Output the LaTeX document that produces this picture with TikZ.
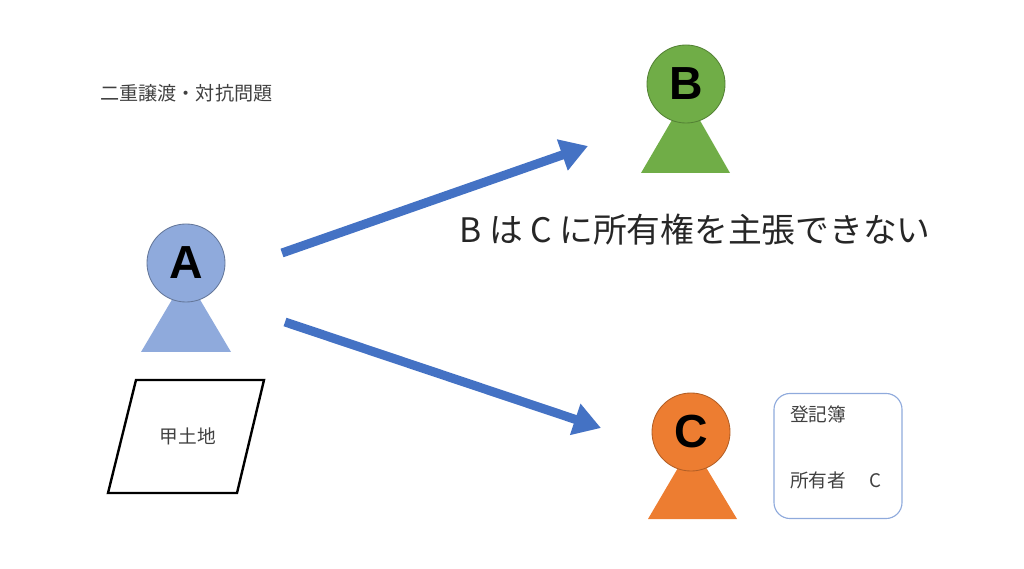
\documentclass[tikz,border=0pt]{standalone}
\usepackage{fontspec}
\usepackage{tikz}
\usetikzlibrary{positioning, arrows.meta}
\newfontfamily\jpfont{Noto Sans CJK JP}
\newfontfamily\headfont{Liberation Sans}
\definecolor{personA}{HTML}{8FAADC}
\definecolor{personB}{HTML}{70AD47}
\definecolor{personC}{HTML}{ED7D31}
\definecolor{arrowblue}{HTML}{4472C4}
\definecolor{textgray}{HTML}{404040}
\definecolor{boxline}{HTML}{8FAADC}
\tikzstyle{head} = [circle, draw, line width=0.6pt, minimum size=1.95cm, inner sep=0pt, font=\headfont\bfseries\fontsize{33}{33}\selectfont]
\tikzstyle{label} = [text=textgray, inner sep=0pt, font=\jpfont\fontsize{13.3}{16}\selectfont]
\tikzstyle{transfer} = [line width=6.4pt, color=arrowblue, -{Triangle[length=0.68cm, width=0.78cm]}]

\begin{document}
\begin{tikzpicture}[x=0.025cm, y=-0.025cm]
\useasboundingbox (0,0) rectangle (1024,569);

\node[label, anchor=west, font=\jpfont\fontsize{13.6}{16}\selectfont] (title) at (100,93) {二重譲渡・対抗問題};

\fill[personA] (141,352) -- (186,276) -- (231,352) -- cycle;
\node[head, fill=personA, draw=personA!70!black] (A) at (186,263) {A};
\fill[personB] (641,173) -- (686,96) -- (730,173) -- cycle;
\node[head, fill=personB, draw=personB!75!black] (B) at (686,84) {B};
\fill[personC] (648,519) -- (692,444) -- (737,519) -- cycle;
\node[head, fill=personC, draw=personC!75!black] (C) at (691,432) {C};

\draw[line width=1.7pt, line join=miter] (136,380) -- (264,380) -- (237,493) -- (108,493) -- cycle;
\node[label] (land) at (188,436) {甲土地};

\coordinate (fromAB) at (282,253);
\coordinate (toB) at (588,146);
\coordinate (fromAC) at (285,322);
\coordinate (toC) at (601,428);
\draw[transfer] (fromAB) -- (toB);
\draw[transfer] (fromAC) -- (toC);

\node[anchor=west, inner sep=0pt, text=black!85, font=\jpfont\fontsize{24}{28}\selectfont] (claim) at (459,230) {B は C に所有権を主張できない};

\node[draw=boxline, line width=0.8pt, rounded corners=0.4cm, minimum width=3.2cm, minimum height=3.125cm] (register) at (838,456) {};
\node[label, anchor=west] (book) at (790,414) {登記簿};
\node[label, anchor=west] (owner) at (790,480) {所有者　 C};
\end{tikzpicture}
\end{document}
